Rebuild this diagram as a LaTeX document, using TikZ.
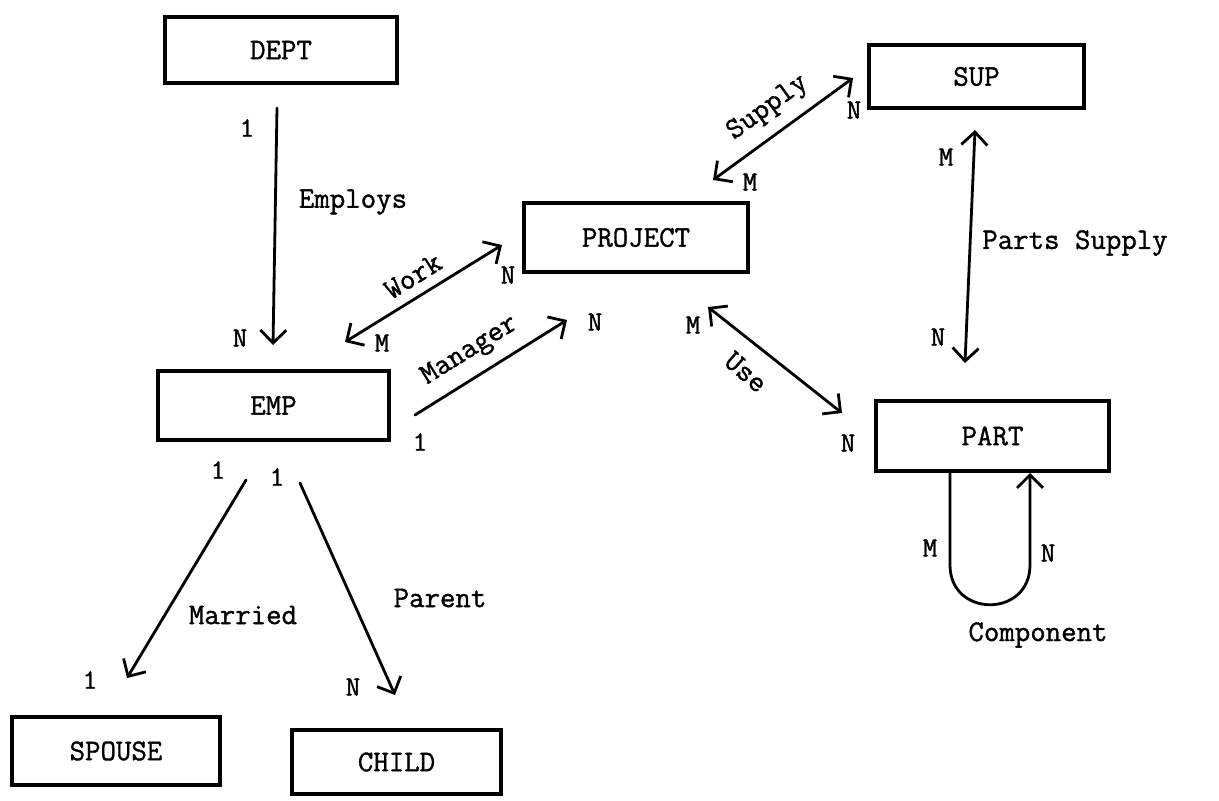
\documentclass[tikz,border=0pt]{standalone}
\usepackage{fontspec}
\newfontfamily\typewriter{Latin Modern Mono}[FakeBold=1.2]
\usetikzlibrary{arrows.meta}
\begin{document}
\begin{tikzpicture}[x=1pt,y=-1pt,
  barb/.tip={Straight Barb[length=13pt,width=26pt]},
  entity/.style={draw, line width=3.5pt, rectangle, inner sep=0pt,
    font=\typewriter\fontsize{30}{34}\selectfont},
  rel/.style={line width=2.8pt, line cap=round},
  card/.style={inner sep=0pt, font=\typewriter\fontsize{28}{32}\selectfont},
  relname/.style={inner sep=0pt, font=\typewriter\fontsize{30}{34}\selectfont}]
\useasboundingbox (0,0) rectangle (1219,801);

% entities
\node[entity, minimum width=232pt, minimum height=66pt] (dept)    at (281,50)    {DEPT};
\node[entity, minimum width=231pt, minimum height=69pt] (emp)     at (273.5,405.5) {EMP};
\node[entity, minimum width=224pt, minimum height=69pt] (project) at (636,237.5) {PROJECT};
\node[entity, minimum width=215pt, minimum height=63pt] (sup)     at (976.5,76.5) {SUP};
\node[entity, minimum width=233pt, minimum height=70pt] (part)    at (992.5,436) {PART};
\node[entity, minimum width=208pt, minimum height=68pt] (spouse)  at (116,751)   {SPOUSE};
\node[entity, minimum width=209pt, minimum height=64pt] (child)   at (396.5,762) {CHILD};

% connector end points
\coordinate (employsA) at (277,108);  \coordinate (employsB) at (273,345);
\coordinate (workA)    at (345,342);  \coordinate (workB)    at (502,245);
\coordinate (mgrA)     at (415,415);  \coordinate (mgrB)     at (567,320);
\coordinate (supplyA)  at (713,180);  \coordinate (supplyB)  at (853,78);
\coordinate (psA)      at (975,130);  \coordinate (psB)      at (965,363);
\coordinate (useA)     at (708,307);  \coordinate (useB)     at (842,413);
\coordinate (marA)     at (246,480);  \coordinate (marB)     at (127,678);
\coordinate (parA)     at (300,483);  \coordinate (parB)     at (395,695);
\coordinate (compA)    at (950,471);  \coordinate (compB)    at (1030,473);

% relationships
\draw[rel, -barb]     (employsA) -- (employsB);
\draw[rel, barb-barb] (workA) -- (workB);
\draw[rel, -barb]     (mgrA) -- (mgrB);
\draw[rel, barb-barb] (supplyA) -- (supplyB);
\draw[rel, barb-barb] (psA) -- (psB);
\draw[rel, barb-barb] (useA) -- (useB);
\draw[rel, -barb]     (marA) -- (marB);
\draw[rel, -barb]     (parA) -- (parB);
\draw[rel, -barb]     (compA) -- (950,565) .. controls (950,618) and (1030,618) .. (1030,565) -- (compB);

% relationship names
\node[relname] (lEmploys) at (353,202) {Employs};
\node[relname, rotate=32] (lWork) at (413,276) {Work};
\node[relname, rotate=32] (lMgr) at (470,351) {Manager};
\node[relname, rotate=36] (lSupply) at (768,108) {Supply};
\node[relname] (lPS) at (1075,243) {Parts Supply};
\node[relname, rotate=-41] (lUse) at (746,372) {Use};
\node[relname] (lMar) at (243,615) {Married};
\node[relname] (lPar) at (440,598) {Parent};
\node[relname] (lComp) at (1038,635) {Component};

% cardinalities
\node[card] (c1) at (247,128) {1};
\node[card] (c2) at (240,338) {N};
\node[card] (c3) at (382,343) {M};
\node[card] (c4) at (508,275) {N};
\node[card] (c5) at (595,322) {N};
\node[card] (c6) at (420,442) {1};
\node[card] (c7) at (854,110) {N};
\node[card] (c8) at (750,182) {M};
\node[card] (c9) at (946,157) {M};
\node[card] (c10) at (938,337) {N};
\node[card] (c11) at (693,325) {M};
\node[card] (c12) at (848,443) {N};
\node[card] (c13) at (930,548) {M};
\node[card] (c14) at (1048,553) {N};
\node[card] (c15) at (218,470) {1};
\node[card] (c16) at (277,477) {1};
\node[card] (c17) at (90,680) {1};
\node[card] (c18) at (353,687) {N};
\end{tikzpicture}
\end{document}
